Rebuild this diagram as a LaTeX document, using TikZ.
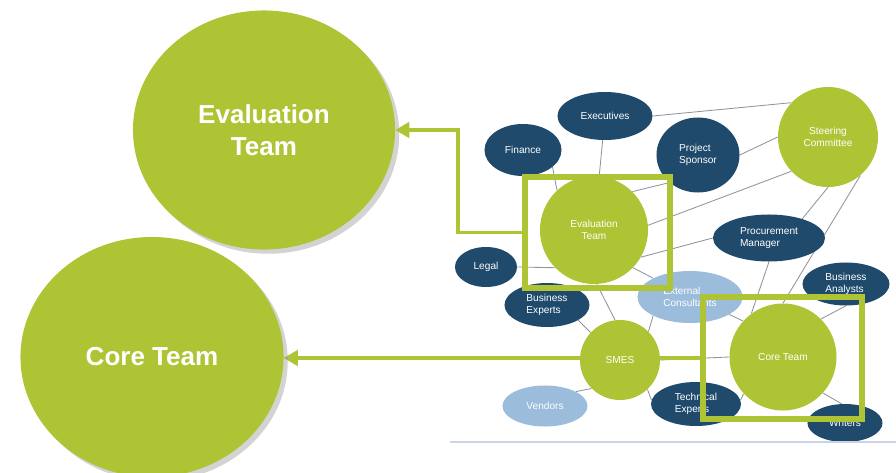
\documentclass[tikz,border=0pt]{standalone}
\usepackage{fontspec}
\setmainfont{Liberation Sans}
\usetikzlibrary{arrows.meta, shapes.geometric, shadows}
\definecolor{leaf}{HTML}{AFC434}
\definecolor{navy}{HTML}{1F4A6B}
\definecolor{sky}{HTML}{9BBCDB}
\definecolor{wiregray}{HTML}{8C959C}
\definecolor{rulegray}{HTML}{C9D5E5}
\pgfdeclarelayer{back}
\pgfsetlayers{back,main}

\begin{document}
\begin{tikzpicture}[x=0.025cm, y=-0.025cm,
  team/.style={circle, fill=leaf, text=white, inner sep=0pt, align=center, font=\fontsize{7.2}{8.4}\selectfont},
  role/.style={ellipse, fill=navy, text=white, inner sep=0pt, align=left, font=\fontsize{7.2}{8.4}\selectfont},
  guest/.style={role, fill=sky},
  big/.style={ellipse, fill=leaf, text=white, inner sep=0pt, align=center,
    font=\fontsize{18.5}{22.5}\selectfont\bfseries,
    drop shadow={shadow xshift=3pt, shadow yshift=-3pt, opacity=0.35, fill=gray}},
  wire/.style={draw=wiregray, line width=0.6pt},
  link/.style={draw=leaf, line width=2.8pt, -{Triangle[length=10pt, width=11pt]}},
  hibox/.style={draw=leaf, line width=4.3pt, inner sep=0pt}]
  \useasboundingbox (0,0) rectangle (896,473);

  % the two teams, large
  \node[big, minimum width=6.55cm, minimum height=5.975cm] (EvalBig) at (264,130) {Evaluation\\Team};
  \node[big, minimum width=6.575cm, minimum height=6cm] (CoreBig) at (152,357) {Core Team};

  % stakeholder map
  \node[role, minimum width=2.375cm, minimum height=1.2cm] (Exec) at (605,116) {Executives};
  \node[role, minimum width=1.925cm, minimum height=1.3cm] (Fin) at (523,150) {Finance};
  \node[role, minimum width=2.075cm, minimum height=1.875cm] (Sponsor) at (698,155) {Project\\Sponsor};
  \node[team, minimum size=2.5cm] (Steer) at (828,137) {Steering\\Committee};
  \node[team, minimum size=2.7cm] (EvalS) at (594,230) {Evaluation\\Team};
  \node[role, minimum width=1.55cm, minimum height=1cm] (Legal) at (486,267) {Legal};
  \node[role, minimum width=2.125cm, minimum height=1.1cm] (BusExp) at (547,305) {Business\\Experts};
  \node[guest, minimum width=2.625cm, minimum height=1.3cm] (Ext) at (690,297) {External\\Consultants};
  \node[role, minimum width=2.8cm, minimum height=1.175cm] (Proc) at (769,238) {Procurement\\Manager};
  \node[role, minimum width=2.175cm, minimum height=1.075cm] (Analysts) at (846,284) {Business\\Analysts};
  \node[team, minimum size=2cm] (Smes) at (620,360) {SMES};
  \node[guest, minimum width=2.125cm, minimum height=1.025cm] (Vendors) at (545,406) {Vendors};
  \node[role, minimum width=2.25cm, minimum height=1.1cm] (Tech) at (696,404) {Technical\\Experts};
  \node[team, minimum size=2.675cm] (CoreS) at (783,357) {Core Team};
  \node[role, minimum width=1.875cm, minimum height=0.95cm] (Writers) at (845,423) {Writers};

  % highlight boxes
  \node[hibox, minimum width=3.625cm, minimum height=2.775cm] (EvalRect) at (597.5,232.5) {};
  \node[hibox, minimum width=3.975cm, minimum height=3.05cm] (CoreRect) at (782.5,358) {};

  \coordinate (bend) at (458,232.5);
  \draw[link] (EvalRect.west) -- (bend) |- (EvalBig.east);

  \draw[rulegray, line width=0.8pt] (450,442) -- (896,442);

  \begin{pgfonlayer}{back}
    \draw[wire] (Exec) -- (EvalS);
    \draw[wire] (Fin.-30) -- (EvalS.133);
    \draw[wire] (Exec.east) -- (Steer.137);
    \draw[wire] (Sponsor.east) -- (Steer.west);
    \draw[wire] (EvalS.45) -- (Sponsor.224);
    \draw[wire] (EvalS.5) -- (Steer.223);
    \draw[wire] (EvalS.-30) -- (Proc.west);
    \draw[wire] (Steer.-90) -- (Proc.30);
    \draw[wire] (Steer.-50) -- (CoreS.90);
    \draw[wire] (Legal.east) -- (EvalS.224);
    \draw[wire] (EvalS.-44) -- (Ext.153);
    \draw[wire] (EvalS.-87) -- (Smes.97);
    \draw[wire] (BusExp.-26) -- (Smes.137);
    \draw[wire] (Ext.207) -- (Smes.45);
    \draw[wire] (Vendors.25) -- (Smes.225);
    \draw[wire] (Smes.-47) -- (Tech.175);
    \draw[wire] (Smes.east) -- (CoreS.west);
    \draw[wire] (CoreS.223) -- (Tech.5);
    \draw[wire] (CoreS.-42) -- (Writers.100);
    \draw[wire] (Proc.south) -- (CoreS.126);
    \draw[wire] (Ext.-24) -- (CoreS.138);
    \draw[wire] (Analysts.-90) -- (CoreS.45);
    \draw[link] (CoreRect.west) -- (CoreRect.west -| CoreBig.east);
  \end{pgfonlayer}
\end{tikzpicture}
\end{document}
